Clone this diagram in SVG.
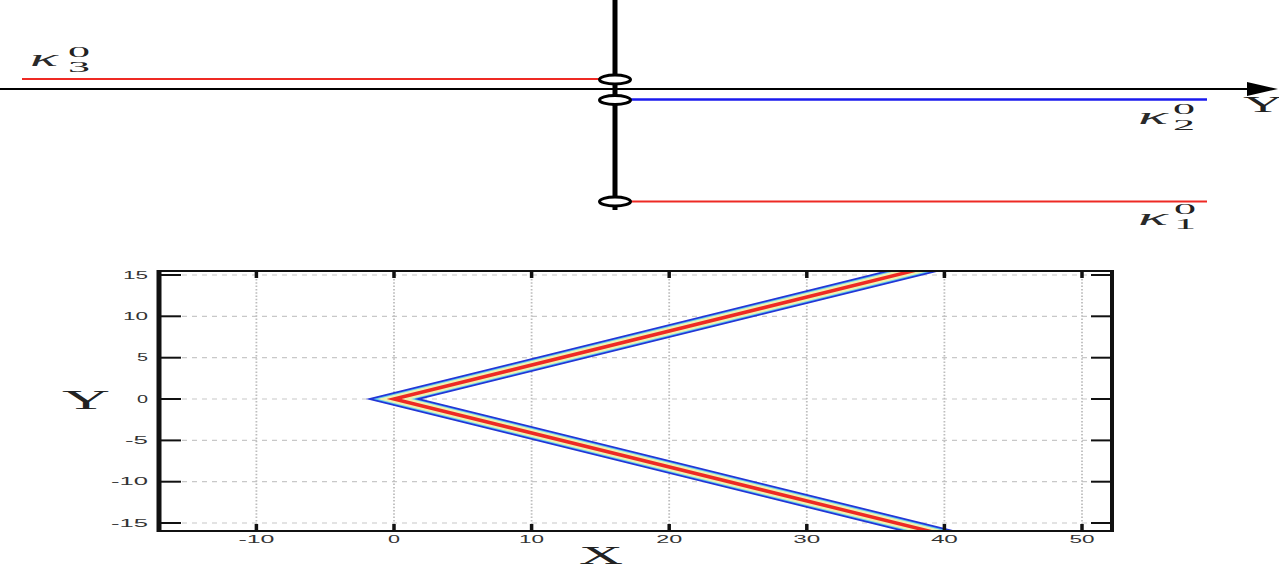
<svg xmlns="http://www.w3.org/2000/svg" width="1279" height="570" viewBox="0 0 1279 570">
<style>
.tl{font-family:"Liberation Sans",Arial,sans-serif;font-size:10px;fill:#333}
.math{font-family:"Liberation Serif","Times New Roman",serif;fill:#222}
.kap{font-family:"Liberation Serif","Times New Roman",serif;font-style:italic;font-size:23px;fill:#2a2a2a}
.sc{font-family:"Liberation Serif","Times New Roman",serif;font-size:14.5px;fill:#222}
.gh{stroke:#c8c8c8;stroke-width:1.2;stroke-dasharray:5 5;fill:none}
.gv{stroke:#bdbdbd;stroke-width:1.8;stroke-dasharray:1.5 1.8;fill:none}
.yt{stroke:#111;stroke-width:2}
.xt{stroke:#111;stroke-width:3.5}
.node{fill:#fff;stroke:#000;stroke-width:3}
</style>
<defs>
<clipPath id="pc"><rect x="161" y="272" width="950" height="258"/></clipPath>
</defs>
<rect width="1279" height="570" fill="#fff"/>

<g id="connectors">
<line x1="0" y1="89" x2="1248" y2="89" stroke="#000" stroke-width="2"/>
<polygon points="1247,82 1278,89 1247,96" fill="#000"/>
<line x1="615" y1="0" x2="615" y2="210" stroke="#000" stroke-width="5"/>
<line x1="22" y1="79" x2="600" y2="79" stroke="#ee2a24" stroke-width="2"/>
<line x1="630" y1="99.5" x2="1207" y2="99.5" stroke="#1a1aee" stroke-width="2.5"/>
<line x1="630" y1="201.5" x2="1207" y2="201.5" stroke="#ee2a24" stroke-width="2"/>
</g>

<g id="node-k3">
<ellipse class="node" cx="615" cy="79.5" rx="15.5" ry="4.5"/>
<text class="kap" x="30" y="66" textLength="28" lengthAdjust="spacingAndGlyphs">κ</text>
<text class="sc" x="68" y="57" textLength="22" lengthAdjust="spacingAndGlyphs">0</text>
<text class="sc" x="68" y="72" textLength="22" lengthAdjust="spacingAndGlyphs">3</text>
</g>
<g id="node-k2">
<ellipse class="node" cx="615" cy="100" rx="15.5" ry="4.5"/>
<text class="kap" x="1138" y="124" textLength="30" lengthAdjust="spacingAndGlyphs">κ</text>
<text class="sc" x="1173" y="114" textLength="22" lengthAdjust="spacingAndGlyphs">0</text>
<text class="sc" x="1173" y="130" textLength="22" lengthAdjust="spacingAndGlyphs">2</text>
</g>
<g id="node-k1">
<ellipse class="node" cx="615" cy="201.5" rx="15.5" ry="4.5"/>
<text class="kap" x="1138" y="225" textLength="30" lengthAdjust="spacingAndGlyphs">κ</text>
<text class="sc" x="1174" y="214" textLength="22" lengthAdjust="spacingAndGlyphs">0</text>
<text class="sc" x="1174" y="229" textLength="22" lengthAdjust="spacingAndGlyphs">1</text>
</g>
<g id="axis-label-Y-top">
<text class="math" x="1243" y="112" font-size="24" textLength="40" lengthAdjust="spacingAndGlyphs">Y</text>
</g>

<g id="plot">
<g id="grid">
<line class="gh" x1="182" y1="275" x2="1092" y2="275"/>
<line class="gh" x1="182" y1="316.3" x2="1092" y2="316.3"/>
<line class="gh" x1="182" y1="357.7" x2="1092" y2="357.7"/>
<line class="gh" x1="182" y1="399" x2="1092" y2="399"/>
<line class="gh" x1="182" y1="440.4" x2="1092" y2="440.4"/>
<line class="gh" x1="182" y1="481.7" x2="1092" y2="481.7"/>
<line class="gh" x1="182" y1="523" x2="1092" y2="523"/>
<line class="gv" x1="256.4" y1="279" x2="256.4" y2="524"/>
<line class="gv" x1="394" y1="279" x2="394" y2="524"/>
<line class="gv" x1="531.6" y1="279" x2="531.6" y2="524"/>
<line class="gv" x1="669.2" y1="279" x2="669.2" y2="524"/>
<line class="gv" x1="806.8" y1="279" x2="806.8" y2="524"/>
<line class="gv" x1="944.4" y1="279" x2="944.4" y2="524"/>
<line class="gv" x1="1082" y1="279" x2="1082" y2="524"/>
</g>
<g id="v-curve" clip-path="url(#pc)" fill="none" stroke-miterlimit="12" stroke-linejoin="miter">
<polyline points="961,259 394,399 961,539" stroke="#2236d6" stroke-width="13.5"/>
<polyline points="961,259 394,399 961,539" stroke="#5cc8f0" stroke-width="10"/>
<polyline points="961,259 394,399 961,539" stroke="#eef2b0" stroke-width="8"/>
<polyline points="961,259 394,399 961,539" stroke="#ee2a24" stroke-width="3.5"/>
</g>
<g id="frame">
<rect x="159" y="271" width="954" height="260" fill="none" stroke="#111" stroke-width="2"/>
<line x1="159" y1="270" x2="159" y2="532" stroke="#111" stroke-width="5"/>
<line x1="1112" y1="270" x2="1112" y2="532" stroke="#111" stroke-width="4"/>
</g>
<g id="ticks">
<line class="yt" x1="159" y1="275" x2="181" y2="275"/>
<line class="yt" x1="159" y1="316.3" x2="181" y2="316.3"/>
<line class="yt" x1="159" y1="357.7" x2="181" y2="357.7"/>
<line class="yt" x1="159" y1="399" x2="181" y2="399"/>
<line class="yt" x1="159" y1="440.4" x2="181" y2="440.4"/>
<line class="yt" x1="159" y1="481.7" x2="181" y2="481.7"/>
<line class="yt" x1="159" y1="523" x2="181" y2="523"/>
<line class="yt" x1="1091" y1="275" x2="1112" y2="275"/>
<line class="yt" x1="1091" y1="316.3" x2="1112" y2="316.3"/>
<line class="yt" x1="1091" y1="357.7" x2="1112" y2="357.7"/>
<line class="yt" x1="1091" y1="399" x2="1112" y2="399"/>
<line class="yt" x1="1091" y1="440.4" x2="1112" y2="440.4"/>
<line class="yt" x1="1091" y1="481.7" x2="1112" y2="481.7"/>
<line class="yt" x1="1091" y1="523" x2="1112" y2="523"/>
<line class="xt" x1="256.4" y1="524" x2="256.4" y2="531"/>
<line class="xt" x1="394" y1="524" x2="394" y2="531"/>
<line class="xt" x1="531.6" y1="524" x2="531.6" y2="531"/>
<line class="xt" x1="669.2" y1="524" x2="669.2" y2="531"/>
<line class="xt" x1="806.8" y1="524" x2="806.8" y2="531"/>
<line class="xt" x1="944.4" y1="524" x2="944.4" y2="531"/>
<line class="xt" x1="1082" y1="524" x2="1082" y2="531"/>
<line class="xt" x1="256.4" y1="271" x2="256.4" y2="278"/>
<line class="xt" x1="394" y1="271" x2="394" y2="278"/>
<line class="xt" x1="531.6" y1="271" x2="531.6" y2="278"/>
<line class="xt" x1="669.2" y1="271" x2="669.2" y2="278"/>
<line class="xt" x1="806.8" y1="271" x2="806.8" y2="278"/>
<line class="xt" x1="944.4" y1="271" x2="944.4" y2="278"/>
<line class="xt" x1="1082" y1="271" x2="1082" y2="278"/>
</g>
<g id="tick-labels">
<text class="tl" x="148" y="278.6" text-anchor="end" textLength="25" lengthAdjust="spacingAndGlyphs">15</text>
<text class="tl" x="148" y="319.9" text-anchor="end" textLength="25" lengthAdjust="spacingAndGlyphs">10</text>
<text class="tl" x="148" y="361.3" text-anchor="end" textLength="11" lengthAdjust="spacingAndGlyphs">5</text>
<text class="tl" x="148" y="402.6" text-anchor="end" textLength="11" lengthAdjust="spacingAndGlyphs">0</text>
<text class="tl" x="148" y="444" text-anchor="end" textLength="23" lengthAdjust="spacingAndGlyphs">-5</text>
<text class="tl" x="148" y="485.3" text-anchor="end" textLength="37" lengthAdjust="spacingAndGlyphs">-10</text>
<text class="tl" x="148" y="526.6" text-anchor="end" textLength="37" lengthAdjust="spacingAndGlyphs">-15</text>
<text class="tl" x="256.4" y="543" text-anchor="middle" textLength="36" lengthAdjust="spacingAndGlyphs">-10</text>
<text class="tl" x="394" y="543" text-anchor="middle" textLength="12" lengthAdjust="spacingAndGlyphs">0</text>
<text class="tl" x="531.6" y="543" text-anchor="middle" textLength="25" lengthAdjust="spacingAndGlyphs">10</text>
<text class="tl" x="669.2" y="543" text-anchor="middle" textLength="26" lengthAdjust="spacingAndGlyphs">20</text>
<text class="tl" x="806.8" y="543" text-anchor="middle" textLength="27" lengthAdjust="spacingAndGlyphs">30</text>
<text class="tl" x="944.4" y="543" text-anchor="middle" textLength="27" lengthAdjust="spacingAndGlyphs">40</text>
<text class="tl" x="1082" y="543" text-anchor="middle" textLength="25" lengthAdjust="spacingAndGlyphs">50</text>
</g>
<text class="math" x="62" y="409" font-size="28" textLength="48" lengthAdjust="spacingAndGlyphs">Y</text>
<text class="math" x="579" y="564" font-size="26" textLength="44" lengthAdjust="spacingAndGlyphs">X</text>
</g>
</svg>
